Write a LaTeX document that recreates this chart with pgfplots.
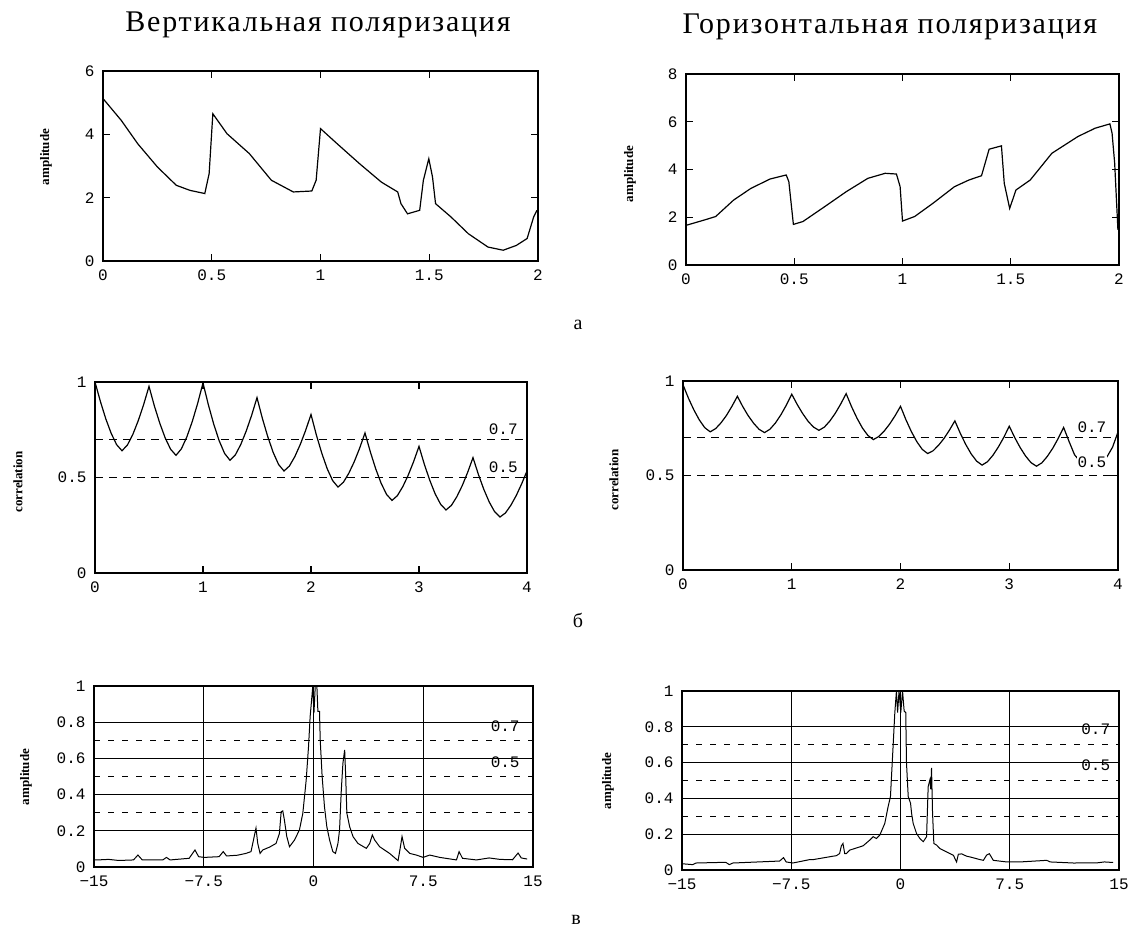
\documentclass[border=0pt]{standalone}
\usepackage{fontspec}
\setmainfont{Liberation Serif}
\newfontfamily\tickfont{Liberation Mono}
\usepackage{pgfplots}
\pgfplotsset{compat=1.18}

\pgfplotsset{
  panel/.style={
    scale only axis, anchor=south west,
    axis line style={line width=1.4pt},
    tick style={black, line width=1.2pt},
    major tick length=7pt, tick align=inside,
    ticklabel style={font=\tickfont\fontsize{16}{16}\selectfont},
    xticklabel style={yshift=-5pt},
    yticklabel style={xshift=-5pt},
    /pgf/number format/assume math mode=true,
  },
  curve/.style={black, line width=1.2pt, mark=none},
  level/.style={black, line width=0.9pt, dash pattern=on 8pt off 6pt},
  spec/.style={panel, width=439pt, height=181pt,
    xmin=-15, xmax=15, ymin=0, ymax=1,
    xtick={-15,-7.5,0,7.5,15}, xticklabels={−15,−7.5,0,7.5,15},
    ytick={0,0.2,0.4,0.6,0.8,1}, yticklabels={0,0.2,0.4,0.6,0.8,1},
    grid=major, major grid style={black, line width=1.1pt}},
}
\newcommand{\ylab}{\bfseries\fontsize{13}{13}\selectfont}
\newcommand{\lvl}{\tickfont\fontsize{16}{16}\selectfont}
\newcommand{\ttl}{\fontsize{30}{30}\selectfont\addfontfeatures{LetterSpace=6}}

\begin{document}
\begin{tikzpicture}
\path (0pt,0pt) rectangle (1133pt,934pt);

% titles and panel letters
\node[font=\ttl] at (318pt,909pt) {Вертикальная поляризация};
\node[font=\ttl] at (890pt,907pt) {Горизонтальная поляризация};
\node[font=\fontsize{20}{20}\selectfont] at (578pt,609pt) {а};
\node[font=\fontsize{20}{20}\selectfont] at (578pt,314pt) {б};
\node[font=\fontsize{20}{20}\selectfont] at (576pt,14pt) {в};

% y labels
\node[rotate=90, font=\ylab] at (46pt,777pt) {amplitude};
\node[rotate=90, font=\ylab] at (630pt,760pt) {amplitude};
\node[rotate=90, font=\ylab] at (18pt,452pt) {correlation};
\node[rotate=90, font=\ylab] at (614pt,454pt) {correlation};
\node[rotate=90, font=\ylab] at (26pt,157pt) {amplitude};
\node[rotate=90, font=\ylab] at (608pt,153pt) {amplitude};

% --- a, vertical
\begin{axis}[panel, at={(103pt,673pt)}, width=435pt, height=190pt,
  xmin=0, xmax=2, ymin=0, ymax=6,
  xtick={0,0.5,1,1.5,2}, xticklabels={0,0.5,1,1.5,2},
  ytick={0,2,4,6}, yticklabels={0,2,4,6}]
\addplot[curve] coordinates {
(0,5.13) (0.084,4.44) (0.16,3.7) (0.25,2.97) (0.337,2.39) (0.40,2.23)
(0.468,2.13) (0.488,2.76) (0.505,4.65) (0.57,4.02) (0.673,3.39) (0.774,2.55)
(0.875,2.18) (0.96,2.21) (0.98,2.55) (1.0,4.18) (1.077,3.7) (1.18,3.07)
(1.28,2.49) (1.355,2.18) (1.37,1.81) (1.40,1.49) (1.456,1.6) (1.473,2.55)
(1.498,3.23) (1.515,2.65) (1.529,1.81) (1.60,1.39) (1.68,0.86) (1.77,0.44)
(1.84,0.34) (1.90,0.49) (1.95,0.71) (1.98,1.39) (1.995,1.6)};
\end{axis}

% --- a, horizontal
\begin{axis}[panel, at={(686pt,669pt)}, width=433pt, height=191pt,
  xmin=0, xmax=2, ymin=0, ymax=8,
  xtick={0,0.5,1,1.5,2}, xticklabels={0,0.5,1,1.5,2},
  ytick={0,2,4,6,8}, yticklabels={0,2,4,6,8}]
\addplot[curve] coordinates {
(0,1.66) (0.087,1.89) (0.137,2.03) (0.22,2.72) (0.30,3.21) (0.388,3.6)
(0.463,3.77) (0.475,3.49) (0.496,1.70) (0.54,1.82) (0.64,2.44) (0.74,3.07)
(0.84,3.63) (0.92,3.84) (0.972,3.81) (0.989,3.28) (1.0,1.84) (1.056,2.03)
(1.14,2.58) (1.24,3.28) (1.307,3.56) (1.365,3.74) (1.40,4.85) (1.457,4.99)
(1.47,3.42) (1.495,2.37) (1.524,3.14) (1.59,3.56) (1.69,4.68) (1.81,5.38)
(1.89,5.73) (1.958,5.91) (1.968,5.52) (1.98,4.26) (1.995,1.47)};
\end{axis}

% --- b, vertical
\begin{axis}[panel, at={(95pt,361pt)}, width=432pt, height=191pt,
  xmin=0, xmax=4, ymin=0, ymax=1,
  xtick={0,1,2,3,4}, xticklabels={0,1,2,3,4},
  ytick={0,0.5,1}, yticklabels={0,0.5,1}]
\addplot[level] coordinates {(0,0.7) (4,0.7)};
\addplot[level] coordinates {(0,0.5) (4,0.5)};
\addplot[curve] coordinates {
(0,1.0) (0.05,0.898) (0.1,0.807) (0.15,0.731) (0.2,0.672) (0.25,0.64)
(0.3,0.670) (0.35,0.725) (0.4,0.797) (0.45,0.881) (0.5,0.977)
(0.55,0.874) (0.6,0.784) (0.65,0.707) (0.7,0.648) (0.75,0.616)
(0.8,0.650) (0.85,0.712) (0.9,0.792) (0.95,0.887) (1.0,0.995)
(1.05,0.880) (1.1,0.778) (1.15,0.692) (1.2,0.626) (1.25,0.59)
(1.3,0.619) (1.35,0.673) (1.4,0.743) (1.45,0.825) (1.5,0.918)
(1.55,0.809) (1.6,0.713) (1.65,0.631) (1.7,0.568) (1.75,0.534)
(1.8,0.560) (1.85,0.609) (1.9,0.672) (1.95,0.746) (2.0,0.83)
(2.05,0.722) (2.1,0.627) (2.15,0.546) (2.2,0.484) (2.25,0.45)
(2.3,0.475) (2.35,0.522) (2.4,0.582) (2.45,0.653) (2.5,0.733)
(2.55,0.633) (2.6,0.544) (2.65,0.469) (2.7,0.411) (2.75,0.38)
(2.8,0.405) (2.85,0.452) (2.9,0.512) (2.95,0.583) (3.0,0.663)
(3.05,0.568) (3.1,0.485) (3.15,0.414) (3.2,0.360) (3.25,0.33)
(3.3,0.354) (3.35,0.399) (3.4,0.457) (3.45,0.526) (3.5,0.604)
(3.55,0.516) (3.6,0.438) (3.65,0.372) (3.7,0.321) (3.75,0.293)
(3.8,0.314) (3.85,0.354) (3.9,0.405) (3.95,0.466) (4.0,0.534)};
\node[font=\lvl] at (axis cs:3.78,0.755) {0.7};
\node[font=\lvl] at (axis cs:3.78,0.555) {0.5};
\end{axis}

% --- b, horizontal
\begin{axis}[panel, at={(683pt,364pt)}, width=435pt, height=189pt,
  xmin=0, xmax=4, ymin=0, ymax=1,
  xtick={0,1,2,3,4}, xticklabels={0,1,2,3,4},
  ytick={0,0.5,1}, yticklabels={0,0.5,1}]
\addplot[level] coordinates {(0,0.7) (4,0.7)};
\addplot[level] coordinates {(0,0.5) (4,0.5)};
\addplot[curve] coordinates {
(0,0.98) (0.05,0.909) (0.1,0.847) (0.15,0.794) (0.2,0.753) (0.25,0.731)
(0.3,0.748) (0.35,0.779) (0.4,0.818) (0.45,0.866) (0.5,0.919)
(0.55,0.864) (0.6,0.816) (0.65,0.776) (0.7,0.744) (0.75,0.727)
(0.8,0.745) (0.85,0.778) (0.9,0.821) (0.95,0.872) (1.0,0.93)
(1.05,0.876) (1.1,0.828) (1.15,0.787) (1.2,0.756) (1.25,0.739)
(1.3,0.756) (1.35,0.788) (1.4,0.829) (1.45,0.878) (1.5,0.933)
(1.55,0.864) (1.6,0.803) (1.65,0.751) (1.7,0.712) (1.75,0.69)
(1.8,0.706) (1.85,0.735) (1.9,0.772) (1.95,0.816) (2.0,0.866)
(2.05,0.795) (2.1,0.732) (2.15,0.679) (2.2,0.638) (2.25,0.616)
(2.3,0.631) (2.35,0.660) (2.4,0.696) (2.45,0.740) (2.5,0.789)
(2.55,0.723) (2.6,0.664) (2.65,0.614) (2.7,0.576) (2.75,0.555)
(2.8,0.573) (2.85,0.607) (2.9,0.651) (2.95,0.702) (3.0,0.761)
(3.05,0.701) (3.1,0.648) (3.15,0.603) (3.2,0.568) (3.25,0.549)
(3.3,0.567) (3.35,0.601) (3.4,0.644) (3.45,0.696) (3.5,0.754)
(3.55,0.68) (3.6,0.61) (3.65,0.575) (3.7,0.555) (3.75,0.548)
(3.8,0.555) (3.85,0.575) (3.9,0.60) (3.95,0.65) (4.0,0.73)};
\node[font=\lvl] at (axis cs:3.76,0.755) {0.7};
\node[font=\lvl, fill=white, inner sep=1pt] at (axis cs:3.76,0.57) {0.5};
\end{axis}

% --- c, vertical
\begin{axis}[spec, at={(94pt,67pt)}]
\addplot[level, dash pattern=on 6pt off 8pt] coordinates {(-15,0.7) (15,0.7)};
\addplot[level, dash pattern=on 6pt off 8pt] coordinates {(-15,0.5) (15,0.5)};
\addplot[level, dash pattern=on 6pt off 8pt] coordinates {(-15,0.3) (15,0.3)};
\addplot[curve, line width=1pt] coordinates {
(-15,0.04) (-14.77,0.039) (-14,0.042) (-13.3,0.036) (-12.3,0.039) (-12.0,0.066)
(-11.7,0.039) (-10.3,0.039) (-10.05,0.053) (-9.8,0.039) (-8.5,0.048) (-8.1,0.094)
(-7.85,0.057) (-7.47,0.053) (-6.45,0.057) (-6.17,0.085) (-5.94,0.061) (-5.2,0.065)
(-4.62,0.075) (-4.27,0.085) (-4.1,0.15) (-3.93,0.215) (-3.81,0.13) (-3.65,0.075)
(-3.47,0.094) (-3.0,0.11) (-2.56,0.13) (-2.33,0.185) (-2.21,0.305) (-2.1,0.31)
(-1.99,0.26) (-1.83,0.17) (-1.64,0.112) (-1.3,0.149) (-0.96,0.205) (-0.73,0.297)
(-0.5,0.48) (-0.34,0.665) (-0.23,0.83) (-0.09,0.96) (-0.05,1.0) (0.03,0.85)
(0.12,1.0) (0.23,1.0) (0.3,0.86) (0.41,0.86) (0.46,0.70) (0.59,0.50)
(0.75,0.333) (0.91,0.223) (1.1,0.149) (1.32,0.085) (1.5,0.075) (1.67,0.13)
(1.78,0.205) (1.9,0.425) (2.01,0.573) (2.13,0.647) (2.2,0.50) (2.28,0.297)
(2.47,0.223) (2.7,0.168) (3.04,0.13) (3.61,0.103) (3.84,0.13) (4.02,0.177)
(4.18,0.149) (4.52,0.112) (5.2,0.075) (5.78,0.035) (5.94,0.112) (6.05,0.168)
(6.23,0.103) (6.58,0.075) (7.03,0.066) (7.49,0.053) (7.94,0.066) (8.63,0.053)
(9.77,0.039) (9.95,0.085) (10.18,0.048) (11.14,0.039) (12.0,0.05) (12.74,0.042)
(13.6,0.04) (13.98,0.077) (14.2,0.05) (14.6,0.044)};
\node[font=\lvl] at (axis cs:13.1,0.78) {0.7};
\node[font=\lvl] at (axis cs:13.1,0.58) {0.5};
\end{axis}

% --- c, horizontal
\begin{axis}[spec, at={(682pt,64pt)}, width=437pt, height=179pt]
\addplot[level, dash pattern=on 6pt off 8pt] coordinates {(-15,0.7) (15,0.7)};
\addplot[level, dash pattern=on 6pt off 8pt] coordinates {(-15,0.5) (15,0.5)};
\addplot[level, dash pattern=on 6pt off 8pt] coordinates {(-15,0.3) (15,0.3)};
\addplot[curve, line width=1pt] coordinates {
(-15,0.035) (-14.27,0.03) (-14.04,0.039) (-12.0,0.043) (-11.75,0.03) (-11.52,0.039)
(-8.3,0.05) (-8.03,0.069) (-7.85,0.045) (-7.39,0.039) (-6.24,0.058) (-6.0,0.058)
(-4.64,0.077) (-4.4,0.08) (-4.18,0.092) (-4.06,0.135) (-3.95,0.148) (-3.83,0.092)
(-3.71,0.092) (-3.49,0.111) (-2.57,0.135) (-2.11,0.167) (-1.88,0.186) (-1.65,0.176)
(-1.42,0.195) (-1.08,0.26) (-0.85,0.354) (-0.69,0.41) (-0.51,0.69) (-0.39,0.879)
(-0.28,1.0) (-0.2,0.88) (-0.1,1.0) (0.02,0.88) (0.14,1.0) (0.25,0.888)
(0.36,0.879) (0.41,0.6) (0.53,0.41) (0.69,0.373) (0.76,0.317) (0.87,0.26)
(1.1,0.204) (1.33,0.176) (1.56,0.158) (1.79,0.186) (1.9,0.466) (2.02,0.504)
(2.08,0.45) (2.13,0.57) (2.2,0.317) (2.29,0.148) (2.48,0.139) (2.7,0.12)
(3.17,0.101) (3.63,0.082) (3.85,0.045) (3.97,0.088) (4.2,0.09) (4.54,0.077)
(4.77,0.073) (5.46,0.058) (5.69,0.054) (5.91,0.083) (6.1,0.091) (6.37,0.054)
(7.29,0.045) (8.21,0.045) (10.04,0.054) (10.27,0.045) (11.88,0.039) (13.5,0.04)
(14.0,0.045) (14.6,0.042)};
\node[font=\lvl] at (axis cs:13.4,0.785) {0.7};
\node[font=\lvl] at (axis cs:13.4,0.585) {0.5};
\end{axis}
\end{tikzpicture}
\end{document}
